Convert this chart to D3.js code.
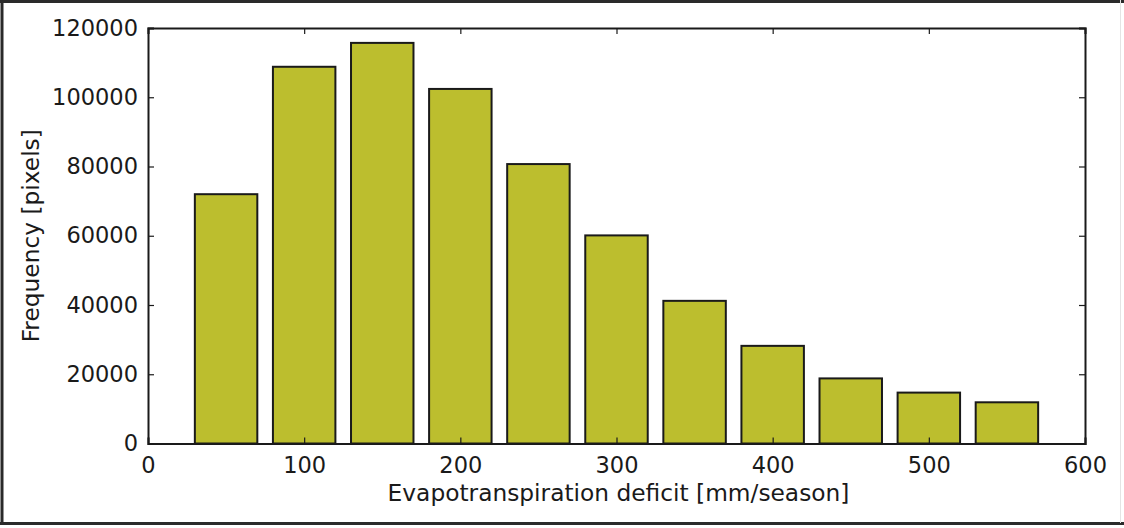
<!DOCTYPE html>
<html>
<head>
<meta charset="utf-8">
<script src="https://cdn.jsdelivr.net/npm/d3@7"></script>
<style>
  html, body { margin: 0; padding: 0; background: #fff; }
  svg { display: block; }
  text { font-family: "DejaVu Sans", sans-serif; fill: #1a1a1a; }
</style>
</head>
<body>
<svg id="chart" width="1124" height="528"></svg>
<script>
// Data
const binCenters = [50, 100, 150, 200, 250, 300, 350, 400, 450, 500, 550];
const frequencies = [72000, 108800, 115700, 102400, 80700, 60100, 41200, 28200, 18800, 14700, 11900];
const binWidth = 40;
const xTicks = [0, 100, 200, 300, 400, 500, 600];
const yTicks = [0, 20000, 40000, 60000, 80000, 100000, 120000];
const xLabel = "Evapotranspiration deficit [mm/season]";
const yLabel = "Frequency [pixels]";

(function () {
const W = 1124, H = 528;
const mLeft = 148, mRight = 1085, mTop = 28, mBottom = 443.5;
const svg = d3.select("#chart");

// outer frame
svg.append("line").attr("x1", 2).attr("x2", 2).attr("y1", 0).attr("y2", 525).attr("stroke", "#2a2a2a").attr("stroke-width", 3);
svg.append("line").attr("x1", 0).attr("x2", W).attr("y1", 1.5).attr("y2", 1.5).attr("stroke", "#2a2a2a").attr("stroke-width", 3);
svg.append("line").attr("x1", 0).attr("x2", W).attr("y1", 523.5).attr("y2", 523.5).attr("stroke", "#2a2a2a").attr("stroke-width", 3);
svg.append("line").attr("x1", 1120.5).attr("x2", 1120.5).attr("y1", 0).attr("y2", 523).attr("stroke", "#e4e4e4").attr("stroke-width", 1);

const x = d3.scaleLinear().domain([0, 600]).range([mLeft, mRight]);
const y = d3.scaleLinear().domain([0, 120000]).range([mBottom, mTop]);

// bars
svg.append("g").selectAll("rect").data(binCenters).join("rect")
  .attr("x", (d) => x(d - binWidth / 2))
  .attr("width", (d) => x(d + binWidth / 2) - x(d - binWidth / 2))
  .attr("y", (d, i) => y(frequencies[i]))
  .attr("height", (d, i) => y(0) - y(frequencies[i]))
  .attr("fill", "#bcbe2e")
  .attr("stroke", "#1a1a1a")
  .attr("stroke-width", 2);

// axes (ticks inward)
const tickLen = 6;
const axBottom = svg.append("g").attr("transform", `translate(0,${mBottom})`)
  .call(d3.axisBottom(x).tickValues(xTicks).tickSize(-tickLen).tickPadding(14).tickFormat(d3.format("d")));
const axTop = svg.append("g").attr("transform", `translate(0,${mTop})`)
  .call(d3.axisTop(x).tickValues(xTicks).tickSize(-tickLen).tickFormat(""));
const axLeft = svg.append("g").attr("transform", `translate(${mLeft},0)`)
  .call(d3.axisLeft(y).tickValues(yTicks).tickSize(-tickLen).tickPadding(10).tickFormat(d3.format("d")));
const axRight = svg.append("g").attr("transform", `translate(${mRight},0)`)
  .call(d3.axisRight(y).tickValues(yTicks).tickSize(-tickLen).tickFormat(""));

[axBottom, axTop, axLeft, axRight].forEach(g => {
  g.select(".domain").attr("stroke", "#1a1a1a").attr("stroke-width", 2);
  g.selectAll(".tick line").attr("stroke", "#1a1a1a").attr("stroke-width", 1.2);
  g.selectAll("text").style("font-size", "22.5px").attr("fill", "#1a1a1a")
    .style("font-family", "'DejaVu Sans', sans-serif");
});

// axis labels
svg.append("text").attr("x", (mLeft + mRight) / 2 + 2).attr("y", 501)
  .attr("text-anchor", "middle").style("font-size", "23.3px").text(xLabel);
svg.append("text").attr("transform", `translate(39,${(mTop + mBottom) / 2}) rotate(-90)`)
  .attr("text-anchor", "middle").style("font-size", "23.3px").text(yLabel);
})();
</script>
</body>
</html>
